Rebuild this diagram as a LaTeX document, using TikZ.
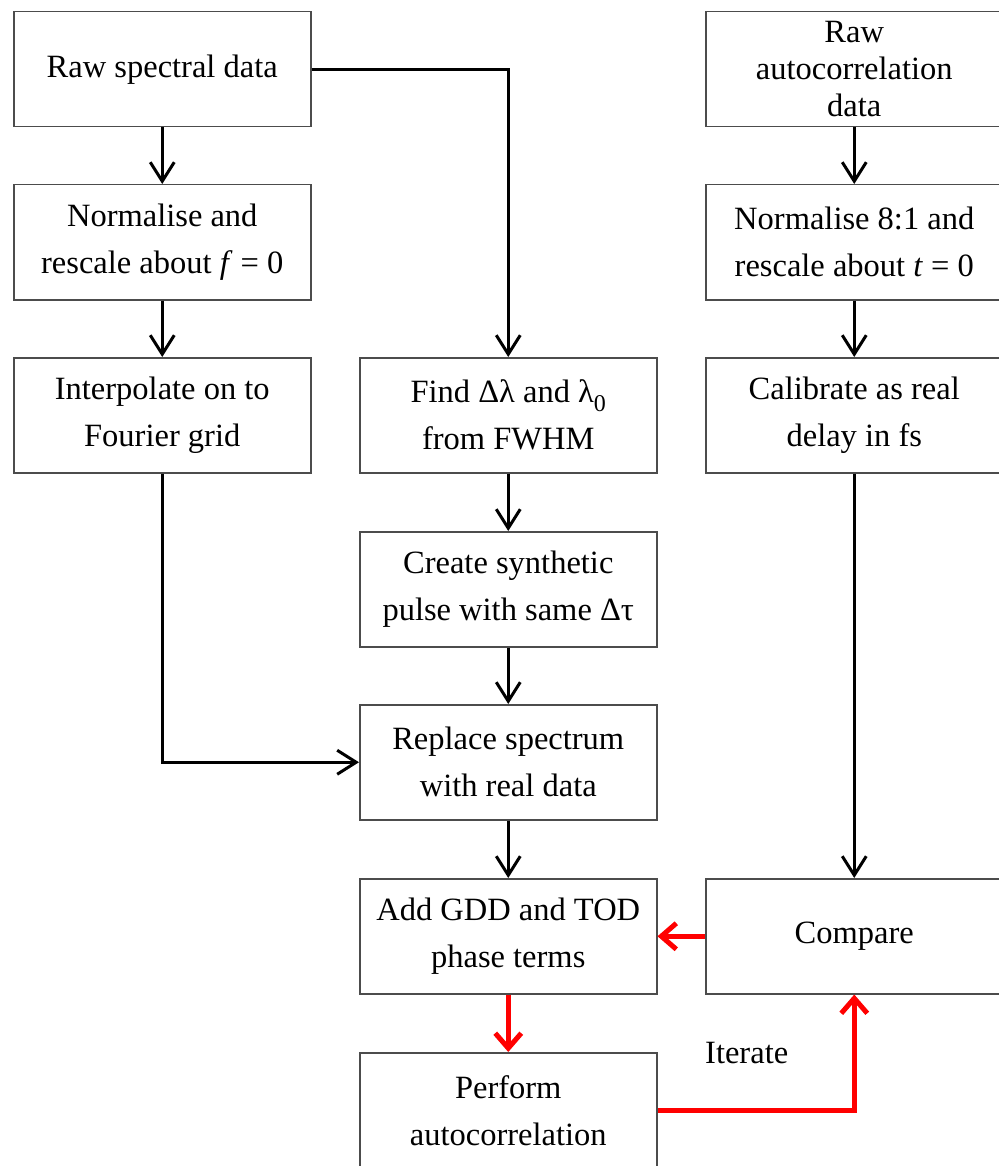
\documentclass[tikz,border=0pt]{standalone}
\usepackage{fontspec}
\setmainfont{Liberation Serif}
\usetikzlibrary{arrows.meta}
\newcommand\mysubzero{\raisebox{-0.6ex}{\fontsize{24}{24}\selectfont 0}}
\begin{document}
\begin{tikzpicture}[x=1pt,y=-1pt,
  box/.style={draw=black!70, line width=1.5pt, minimum width=297pt, minimum height=115pt,
    anchor=north west, align=center, inner sep=0pt, font=\fontsize{32.5}{47}\selectfont},
  arr/.style={line width=3pt, -{Straight Barb[length=19pt,width=24pt]}},
  redarr/.style={red, line width=5pt, -{Straight Barb[length=15pt,width=26pt]}},
  lbl/.style={font=\fontsize{32.5}{37}\selectfont, inner sep=0pt}]
\useasboundingbox (0,0) rectangle (998,1166);
\node[box] (raw) at (13,11) {\raisebox{4pt}{Raw spectral data}};
\node[box] (norm) at (13,184) {Normalise and\\rescale about \textit{f} = 0};
\node[box] (interp) at (13,357) {Interpolate on to\\Fourier grid};
\node[box] (find) at (359,357) {Find Δλ and λ\mysubzero\\from FWHM};
\node[box] (create) at (359,531) {Create synthetic\\pulse with same Δτ};
\node[box] (replace) at (359,704) {Replace spectrum\\with real data};
\node[box] (add) at (359,878) {Add GDD and TOD\\phase terms};
\node[box] (perform) at (359,1052) {Perform\\autocorrelation};
\node[box, font=\fontsize{32.5}{37}\selectfont] (rawac) at (705,11) {Raw\\autocorrelation\\data};
\node[box] (norm2) at (705,184) {Normalise 8:1 and\\rescale about \textit{t} = 0};
\node[box] (calib) at (705,357) {Calibrate as real\\delay in fs};
\node[box] (comp) at (705,878) {Compare};
\node[lbl, anchor=west] (iter) at (705,1053) {Iterate};

\draw[arr] (raw.south) -- (norm.north);
\draw[arr] (norm.south) -- (interp.north);
\draw[arr] (raw.east) -| (find.north);
\draw[arr] (interp.south) |- (replace.west);
\draw[arr] (find.south) -- (create.north);
\draw[arr] (create.south) -- (replace.north);
\draw[arr] (replace.south) -- (add.north);
\draw[arr] (rawac.south) -- (norm2.north);
\draw[arr] (norm2.south) -- (calib.north);
\draw[arr] (calib.south) -- (comp.north);
\draw[redarr] (comp.west) -- (add.east);
\draw[redarr] (add.south) -- (perform.north);
\draw[redarr] (perform.east) -| (comp.south);
\end{tikzpicture}
\end{document}
